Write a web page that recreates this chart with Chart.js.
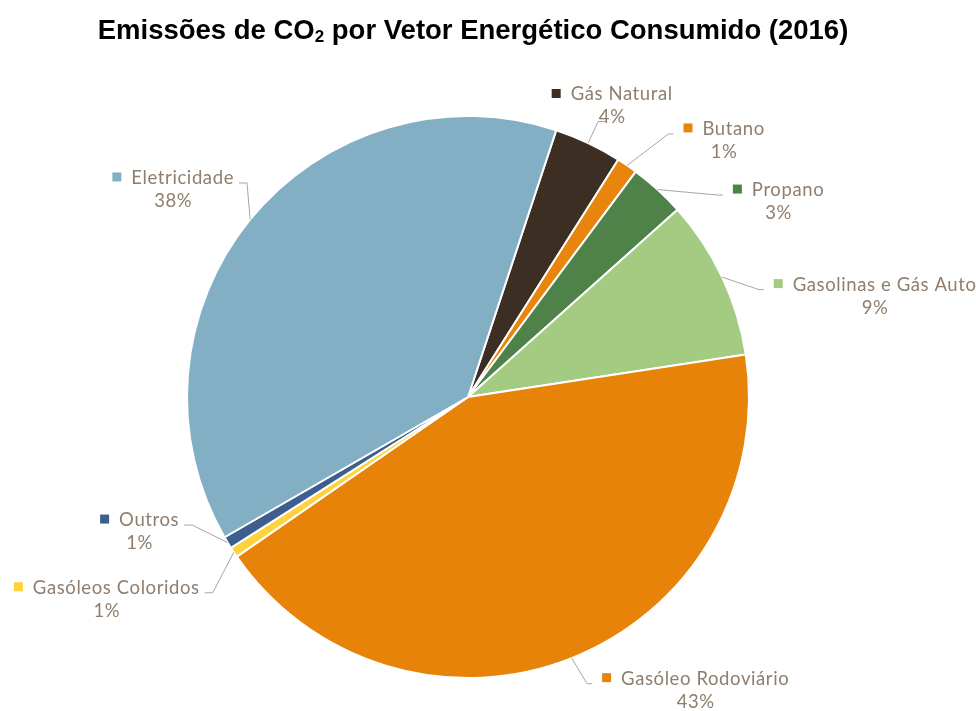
<!DOCTYPE html>
<html>
<head>
<meta charset="utf-8">
<script src="https://cdn.jsdelivr.net/npm/chart.js@4.4.0/dist/chart.umd.min.js"></script>
<style>
  body { margin: 0; background: #ffffff; }
  #wrap { width: 976px; height: 711px; }
</style>
</head>
<body>
<div id="wrap"><canvas id="co2Chart" width="976" height="711"></canvas></div>
<script>
// categories and share of CO2 emissions (%)
const categories = ["Gás Natural", "Butano", "Propano", "Gasolinas e Gás Auto",
    "Gasóleo Rodoviário", "Gasóleos Coloridos", "Outros", "Eletricidade"];
const emissions = [3.9, 1.2, 3.2, 9.2, 42.8, 0.6, 0.7, 38.4];
const sliceColors = ["#3D2E24", "#E8850C", "#4E8248", "#A3CC82",
    "#E8830A", "#FDD23A", "#3E5F8E", "#82AFC4"];

// where each label block sits, relative to the slice's outer edge
const labelShift = [[24, -37], [97, -25], [121, 12], [153, 19],
    [124, 32], [-127, 47], [-88, -11], [-77, -30]];

const labelFont = "18.5px Lato";
const labelColor = "#8F7E6E";

// title with subscript 2
const titlePlugin = {
    id: "titleSub",
    afterDraw(chart) {
        const ctx = chart.ctx;
        const parts = [
            { t: "Emissões de CO", f: "bold 27.5px 'Liberation Sans', Arial", dy: 0 },
            { t: "2", f: "bold 17px 'Liberation Sans', Arial", dy: 3 },
            { t: " por Vetor Energético Consumido (2016)", f: "bold 27.5px 'Liberation Sans', Arial", dy: 0 }
        ];
        ctx.save();
        ctx.fillStyle = "#000000";
        ctx.textBaseline = "alphabetic";
        let total = 0;
        parts.forEach(p => { ctx.font = p.f; total += ctx.measureText(p.t).width; });
        let x = 473 - total / 2;
        parts.forEach(p => {
            ctx.font = p.f;
            ctx.textAlign = "left";
            ctx.fillText(p.t, x, 39 + p.dy);
            x += ctx.measureText(p.t).width;
        });
        ctx.restore();
    }
};

// outside labels with leader lines
const labelPlugin = {
    id: "pieLabels",
    afterDatasetsDraw(chart) {
        const ctx = chart.ctx;
        const arcs = chart.getDatasetMeta(0).data;
        const total = emissions.reduce((s, v) => s + v, 0);
        ctx.save();
        ctx.font = labelFont;
        ctx.letterSpacing = "0.6px";
        arcs.forEach((arc, i) => {
            const mid = (arc.startAngle + arc.endAngle) / 2;
            const ex = arc.x + Math.cos(mid) * arc.outerRadius;
            const ey = arc.y + Math.sin(mid) * arc.outerRadius;
            const cx = ex + labelShift[i][0];
            const cy = ey + labelShift[i][1];

            const name = categories[i];
            const pct = Math.round(emissions[i] / total * 100) + "%";
            const sq = 9, gap = 10;
            const nameW = ctx.measureText(name).width;
            const pctW = ctx.measureText(pct).width;
            const line1W = sq + gap + nameW;
            const y1 = cy - 11.5, y2 = cy + 11.5;
            const left1 = cx - line1W / 2;
            const boxLeft = Math.min(left1, cx - pctW / 2);
            const boxRight = Math.max(left1 + line1W, cx + pctW / 2);

            // leader line
            let pts;
            if (boxLeft - 4 > ex) {
                const endX = left1 - 10;
                pts = [[ex, ey], [endX - 5, y1 + 5], [endX, y1 + 5]];
            } else if (boxRight + 4 < ex) {
                const endX = left1 + line1W + 5;
                pts = [[ex, ey], [endX + 8, y1 + 5], [endX, y1 + 5]];
            } else {
                const endY = y2 + 4;
                pts = [[ex, ey], [cx - 14, endY], [cx - 6, endY]];
            }
            ctx.strokeStyle = "#A6A6A6";
            ctx.lineWidth = 1;
            ctx.beginPath();
            ctx.moveTo(pts[0][0], pts[0][1]);
            pts.slice(1).forEach(p => ctx.lineTo(p[0], p[1]));
            ctx.stroke();

            // key square + text
            ctx.fillStyle = sliceColors[i];
            ctx.fillRect(left1, y1 - sq / 2 - 1, sq, sq);
            ctx.fillStyle = labelColor;
            ctx.textBaseline = "middle";
            ctx.textAlign = "left";
            ctx.fillText(name, left1 + sq + gap, y1);
            ctx.textAlign = "center";
            ctx.fillText(pct, cx, y2);
        });
        ctx.restore();
    }
};

new Chart(document.getElementById("co2Chart"), {
    type: "pie",
    data: {
        labels: categories,
        datasets: [{
            data: emissions,
            backgroundColor: sliceColors,
            borderColor: "#ffffff",
            borderWidth: 2
        }]
    },
    options: {
        responsive: false,
        animation: false,
        rotation: 18.3,
        layout: { padding: { top: 115, bottom: 32, left: 40, right: 80 } },
        plugins: {
            legend: { display: false },
            title: { display: false },
            tooltip: { enabled: false }
        }
    },
    plugins: [titlePlugin, labelPlugin]
});
</script>
</body>
</html>
